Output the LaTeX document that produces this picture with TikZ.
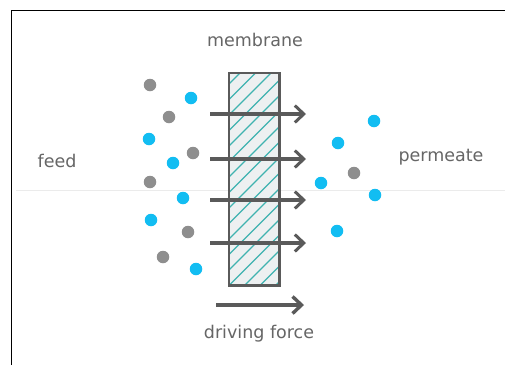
\documentclass[tikz,border=0pt]{standalone}
\usepackage{fontspec}
\setmainfont{DejaVu Sans}
\usetikzlibrary{arrows.meta}
\definecolor{dotblue}{HTML}{12BDF2}
\definecolor{dotgray}{HTML}{8E8E8E}
\definecolor{txtgray}{HTML}{666666}
\definecolor{arrgray}{HTML}{5A5A5A}
\definecolor{hatchteal}{HTML}{3FB3B0}
\definecolor{memfill}{HTML}{EDF0F1}
\tikzset{
  bdot/.style={circle,fill=dotblue,inner sep=0pt,minimum size=12.5pt},
  gdot/.style={circle,fill=dotgray,inner sep=0pt,minimum size=12.5pt},
  lbl/.style={text=txtgray,font=\fontsize{17.5}{19}\selectfont,inner sep=0pt},
  flux/.style={draw=arrgray,line width=3.2pt,-{Straight Barb[length=9pt,width=17pt,line width=3pt]}},
  drive/.style={draw=arrgray,line width=4.4pt,-{Straight Barb[length=9pt,width=17pt,line width=3.4pt]}},
}
\begin{document}
\begin{tikzpicture}[x=1pt,y=-1pt]
\useasboundingbox (0,0) rectangle (505,365);
\fill[white] (0,0) rectangle (505,365);
% frame
\draw[black,line width=1.6pt] (11.5,365) -- (11.5,10.5) -- (505,10.5);
% faint baseline
\draw[black!8,line width=0.8pt] (16,190) -- (505,190);
% membrane
\node[draw=none,fill=memfill,minimum width=50pt,minimum height=212pt,inner sep=0pt,anchor=north west] (mem) at (229,73) {};
\begin{scope}
\clip (229,73) rectangle (279,285);
\foreach \k in {0,...,18}{
  \draw[hatchteal,line width=1.2pt] (229,84+\k*15.5) -- ++(60,-60);
}
\end{scope}
\draw[arrgray,line width=2.4pt] (mem.north west) rectangle (mem.south east);
% flux arrows
\foreach \yy/\nm in {114/a,159/b,200/c,243/d}{
  \coordinate (s\nm) at (210,\yy);
  \coordinate (e\nm) at (306,\yy);
  \draw[flux] (s\nm) -- (e\nm);
}
\coordinate (ds) at (216,305);
\coordinate (de) at (304,305);
\draw[drive] (ds) -- (de);
% labels
\node[lbl] (tmem) at (255,40) {membrane};
\node[lbl] (tfeed) at (57,161) {feed};
\node[lbl] (tperm) at (441,157) {permeate};
\node[lbl] (tdrive) at (259,334) {driving force};
% feed dots
\node[gdot] (g1) at (150,85) {};
\node[bdot] (b1) at (191,98) {};
\node[gdot] (g2) at (169,117) {};
\node[bdot] (b2) at (149,139) {};
\node[gdot] (g3) at (193,153) {};
\node[bdot] (b3) at (173,163) {};
\node[gdot] (g4) at (150,182) {};
\node[bdot] (b4) at (183,198) {};
\node[bdot] (b5) at (151,220) {};
\node[gdot] (g5) at (188,232) {};
\node[gdot] (g6) at (163,257) {};
\node[bdot] (b6) at (196,269) {};
% permeate dots
\node[bdot] (p1) at (374,121) {};
\node[bdot] (p2) at (338,143) {};
\node[gdot] (p3) at (354,173) {};
\node[bdot] (p4) at (321,183) {};
\node[bdot] (p5) at (375,195) {};
\node[bdot] (p6) at (337,231) {};
\end{tikzpicture}
\end{document}
